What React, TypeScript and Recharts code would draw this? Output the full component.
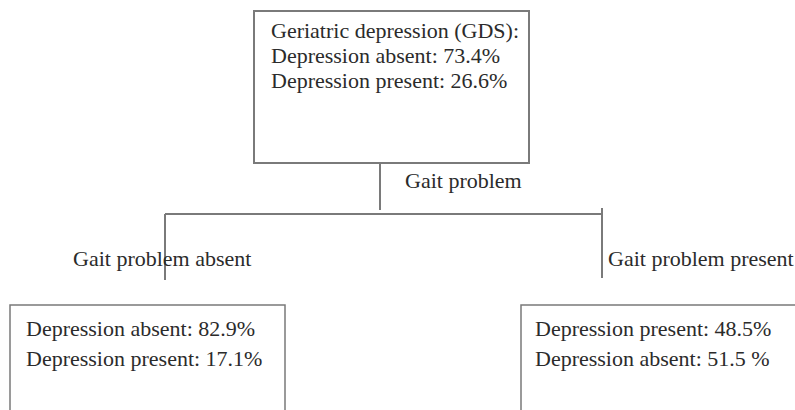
import { useEffect, useState } from "react";
import { ScatterChart, Scatter, XAxis, YAxis, ReferenceArea, ReferenceLine } from "recharts";

// decision tree content
const rootLines = ["Geriatric depression (GDS):", "Depression absent: 73.4%", "Depression present: 26.6%"];
const splitLabel = ["Gait problem"];
const branchLabels = ["Gait problem absent", "Gait problem present"];
const leftLeafLines = ["Depression absent: 82.9%", "Depression present: 17.1%"];
const rightLeafLines = ["Depression present: 48.5%", "Depression absent: 51.5 %"];

// layout (in axis units, 0..795 x 0..410, y grows downward)
const W = 795;
const H = 410;
const boxes = [
  { x1: 254, x2: 529, y1: 11, y2: 163, w: 2 },
  { x1: 10, x2: 285, y1: 305, y2: 420, w: 1.5 },
  { x1: 521, x2: 820, y1: 305, y2: 420, w: 1.5 },
];
const connectors = [
  [[380, 163], [380, 210]],
  [[165, 214], [602, 214]],
  [[165, 214], [165, 280]],
  [[602, 208], [602, 278]],
];

type TextNode = { x: number; y: number; text: string };

const textNodes: TextNode[] = [
  ...rootLines.map((t, i) => ({ x: 271, y: 38 + i * 25, text: t })),
  { x: 405, y: 188, text: splitLabel[0] },
  { x: 73, y: 266, text: branchLabels[0] },
  { x: 608, y: 266, text: branchLabels[1] },
  ...leftLeafLines.map((t, i) => ({ x: 26, y: 336 + i * 30, text: t })),
  ...rightLeafLines.map((t, i) => ({ x: 535, y: 336 + i * 30, text: t })),
];

if (typeof document !== "undefined") document.body.style.margin = "0";

const renderText = (props: any) => (
  <text className="tree-label" x={props.cx} y={props.cy} fontSize={22} fontFamily="Liberation Serif">
    <tspan fontFamily="Liberation Serif" fill="#2b2b2b">
      {props.payload.text}
    </tspan>
  </text>
);

export default function App() {
  // re-render once after mount so the serif font is picked up
  const [ready, setReady] = useState(0);
  useEffect(() => {
    const t = setTimeout(() => setReady(1), 250);
    return () => clearTimeout(t);
  }, []);

  return (
    <div style={{ background: "#fff", width: W, height: H }}>
      <ScatterChart key={ready} width={W} height={H} margin={{ top: 0, right: 0, bottom: 0, left: 0 }}>
        <XAxis type="number" dataKey="x" domain={[0, W]} hide />
        <YAxis type="number" dataKey="y" domain={[0, H]} reversed hide />
        {boxes.map((b, i) => (
          <ReferenceArea
            key={`box-${i}`}
            x1={b.x1}
            x2={b.x2}
            y1={b.y1}
            y2={b.y2}
            fill="#fff"
            fillOpacity={1}
            stroke="#7a7a7a"
            strokeWidth={b.w}
            ifOverflow="visible"
          />
        ))}
        {connectors.map((seg, i) => (
          <ReferenceLine
            key={`edge-${i}`}
            segment={[
              { x: seg[0][0], y: seg[0][1] },
              { x: seg[1][0], y: seg[1][1] },
            ]}
            stroke="#7a7a7a"
            strokeWidth={2}
            ifOverflow="visible"
          />
        ))}
        <Scatter data={textNodes} shape={renderText} isAnimationActive={false} />
      </ScatterChart>
    </div>
  );
}
